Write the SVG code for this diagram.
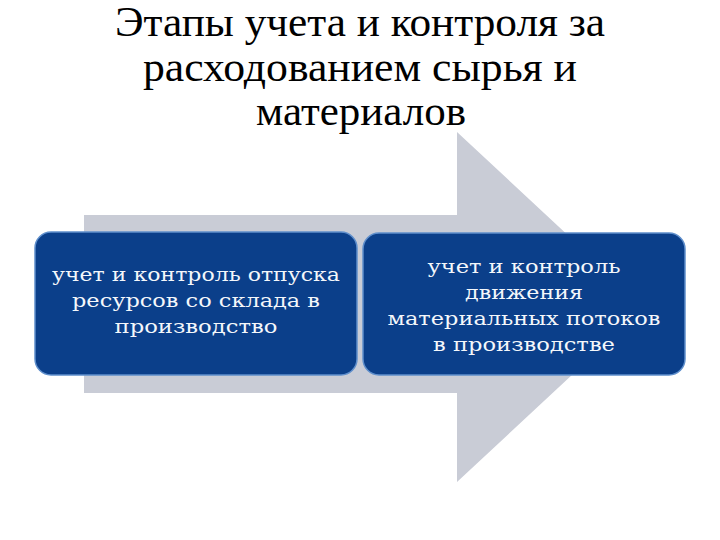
<svg xmlns="http://www.w3.org/2000/svg" width="720" height="540" viewBox="0 0 720 540">
<style>
.title{font-family:"Liberation Serif","Times New Roman",serif;font-size:42px;fill:#000;text-anchor:middle}
.box{fill:#0b3f8a;stroke:#5f8fcc;stroke-width:1.5}
.lbl{font-family:"DejaVu Serif","Liberation Serif",serif;font-size:19px;fill:#f4f7fb;text-anchor:middle}
.arrow{fill:#c9ccd6}
</style>
<rect width="720" height="540" fill="#fff"/>
<g id="title">
<text class="title" x="360" y="36" textLength="490" lengthAdjust="spacingAndGlyphs">Этапы учета и контроля за</text>
<text class="title" x="360" y="81" textLength="434" lengthAdjust="spacingAndGlyphs">расходованием сырья и</text>
<text class="title" x="361" y="125" textLength="210" lengthAdjust="spacingAndGlyphs">материалов</text>
</g>
<g id="connectors">
<polygon class="arrow" points="84,215 457,215 457,132 645,307 457,482 457,393 84,393"/>
</g>
<g id="node1">
<rect class="box" x="35" y="232" width="322" height="143" rx="16"/>
<text class="lbl" x="196" y="281" textLength="288" lengthAdjust="spacingAndGlyphs">учет и контроль отпуска</text>
<text class="lbl" x="196" y="307" textLength="248" lengthAdjust="spacingAndGlyphs">ресурсов со склада в</text>
<text class="lbl" x="196" y="333" textLength="163" lengthAdjust="spacingAndGlyphs">производство</text>
</g>
<g id="node2">
<rect class="box" x="363" y="233" width="322" height="142" rx="16"/>
<text class="lbl" x="524" y="273" textLength="193" lengthAdjust="spacingAndGlyphs">учет и контроль</text>
<text class="lbl" x="524" y="299" textLength="118" lengthAdjust="spacingAndGlyphs">движения</text>
<text class="lbl" x="524" y="325" textLength="273" lengthAdjust="spacingAndGlyphs">материальных потоков</text>
<text class="lbl" x="524" y="351" textLength="182" lengthAdjust="spacingAndGlyphs">в производстве</text>
</g>
</svg>
